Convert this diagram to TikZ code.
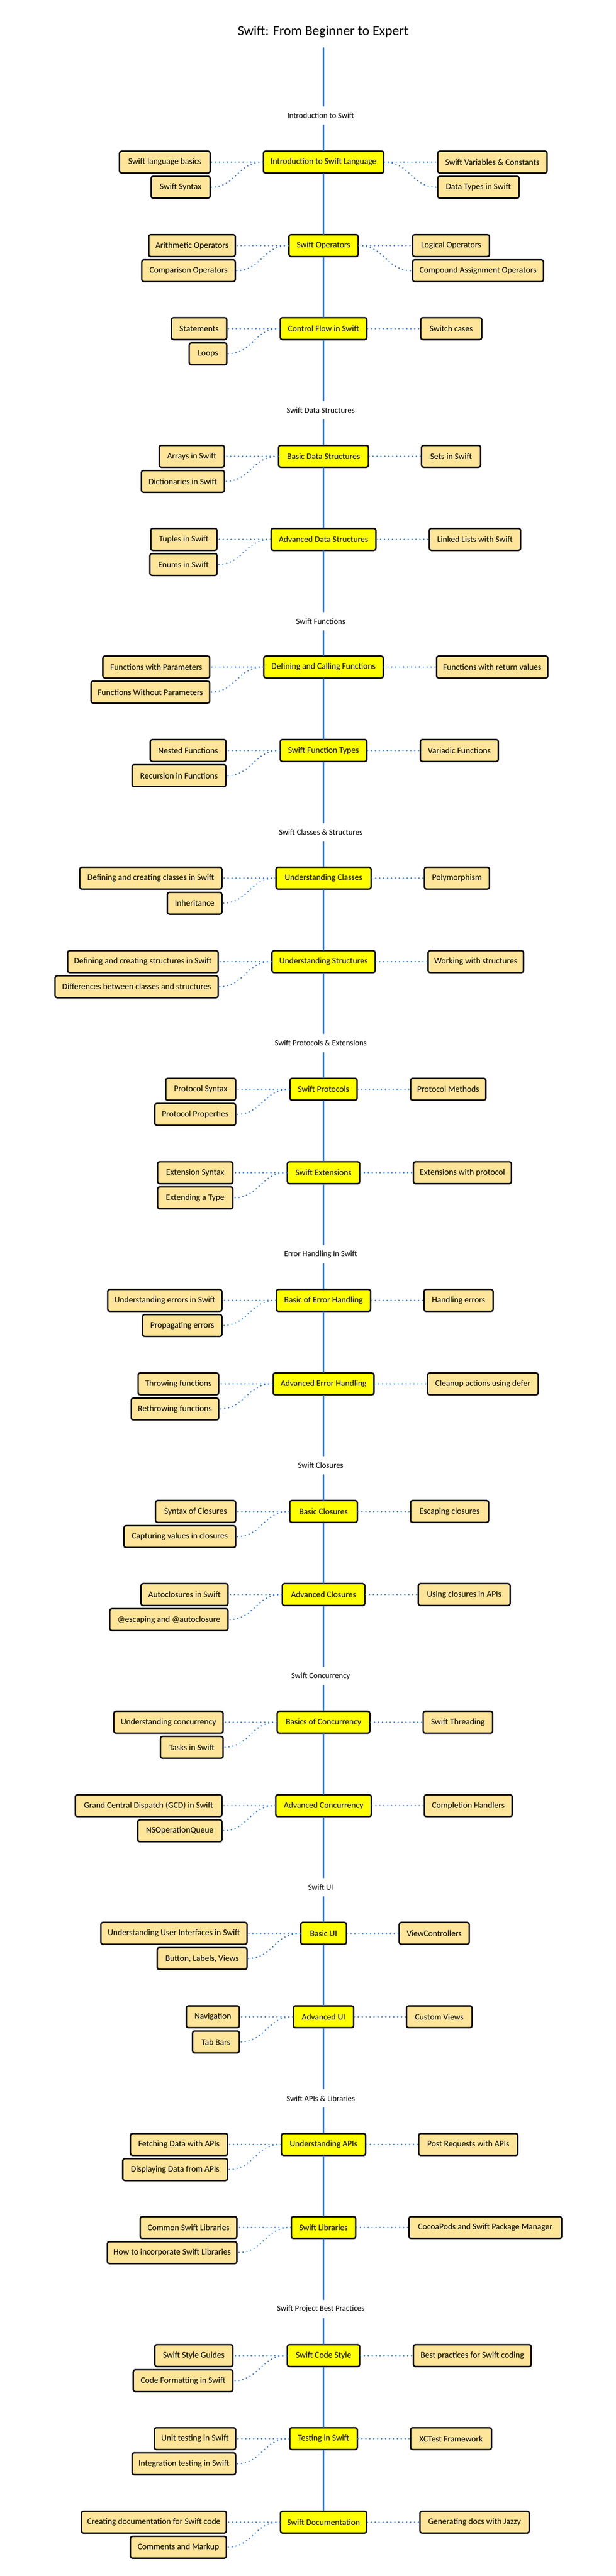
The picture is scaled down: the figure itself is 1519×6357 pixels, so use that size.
\documentclass[tikz,border=0pt]{standalone}
\usepackage{fontspec}
\setmainfont{Carlito}
\definecolor{spineblue}{HTML}{2B78E4}
\definecolor{mainfill}{HTML}{FFFF00}
\definecolor{subfill}{HTML}{FFE599}
\tikzset{
  box/.style={draw=black, line width=3.5pt, rounded corners=5pt, minimum height=54pt,
    inner sep=0pt, font=\fontsize{21}{25}\selectfont, text=black},
  mainbox/.style={box, fill=mainfill},
  subbox/.style={box, fill=subfill},
  seclabel/.style={inner sep=0pt, minimum height=47pt, font=\fontsize{19.7}{24}\selectfont},
  titlestyle/.style={inner sep=0pt, font=\fontsize{33.7}{40}\selectfont},
  spine/.style={draw=spineblue, line width=4pt, line cap=round},
  dotline/.style={draw=spineblue, line width=3.7pt, dash pattern=on 0pt off 9.7pt, line cap=round},
}
\newcommand\MainBox[4]{\node[mainbox, minimum width={#3-3.5}] (#1) at (798,#2) {#4};}
\newcommand\SubBox[5]{\node[subbox, minimum width={#3-#2-3.5}] (#1) at ({(#2+#3)/2},#4) {#5};}
\newcommand\Links[4]{%
  \draw[dotline] (#1.west) -- (#2.east);
  \draw[dotline] (#1.west) .. controls +(-64,0) and +(64,0) .. (#3.east);
  \draw[dotline] (#1.east) -- (#4.west);}
\newcommand\RLink[2]{\draw[dotline] (#1.east) .. controls +(64,0) and +(-64,0) .. (#2.west);}
\newcommand\Spine[4]{\draw[spine] (top |- #1.south) -- (#2.north) (#2.south) -- (#3.north) (#3.south) -- (top |- #4.north);}

\begin{document}
\begin{tikzpicture}[x=1pt,y=-1pt]
\useasboundingbox[fill=white] (0,0) rectangle (1519,6357);
\node[titlestyle] (title) at (797,78) {Swift: From Beginner to Expert};
\coordinate (top) at (798,118);

% section labels
\node[seclabel] (lab1) at (791,285) {Introduction to Swift};
\node[seclabel] (lab2) at (791,1012) {Swift Data Structures};
\node[seclabel] (lab3) at (791,1533) {Swift Functions};
\node[seclabel] (lab4) at (791,2054) {Swift Classes \& Structures};
\node[seclabel] (lab5) at (791,2574) {Swift Protocols \& Extensions};
\node[seclabel] (lab6) at (791,3095) {Error Handling In Swift};
\node[seclabel] (lab7) at (791,3616) {Swift Closures};
\node[seclabel] (lab8) at (791,4136) {Swift Concurrency};
\node[seclabel] (lab9) at (791,4657) {Swift UI};
\node[seclabel] (lab10) at (791,5178) {Swift APIs \& Libraries};
\node[seclabel] (lab11) at (791,5698) {Swift Project Best Practices};

% ---- section 1
\MainBox{intro}{400}{300}{Introduction to Swift Language}
\SubBox{introA}{293}{520}{400}{Swift language basics}
\SubBox{introB}{371}{520}{462}{Swift Syntax}
\SubBox{introC}{1078}{1351}{400}{Swift Variables \& Constants}
\SubBox{introD}{1078}{1282}{462}{Data Types in Swift}
\MainBox{ops}{606}{174}{Swift Operators}
\SubBox{opsA}{365}{582}{606}{Arithmetic Operators}
\SubBox{opsB}{348}{582}{668}{Comparison Operators}
\SubBox{opsC}{1016}{1209}{606}{Logical Operators}
\SubBox{opsD}{1016}{1342}{668}{Compound Assignment Operators}
\MainBox{flow}{811}{217}{Control Flow in Swift}
\SubBox{flowA}{421}{561}{811}{Statements}
\SubBox{flowB}{465}{561}{873}{Loops}
\SubBox{flowC}{1036}{1190}{811}{Switch cases}
\draw[spine] (top) -- (top |- lab1.north);
\draw[spine] (top |- lab1.south) -- (intro.north) (intro.south) -- (ops.north) (ops.south) -- (flow.north) (flow.south) -- (top |- lab2.north);
\Links{intro}{introA}{introB}{introC}\RLink{intro}{introD}
\Links{ops}{opsA}{opsB}{opsC}\RLink{ops}{opsD}
\Links{flow}{flowA}{flowB}{flowC}

% ---- section 2
\MainBox{bds}{1126}{225}{Basic Data Structures}
\SubBox{bdsA}{391}{555}{1126}{Arrays in Swift}
\SubBox{bdsB}{347}{555}{1188}{Dictionaries in Swift}
\SubBox{bdsC}{1038}{1187}{1126}{Sets in Swift}
\MainBox{ads}{1331}{262}{Advanced Data Structures}
\SubBox{adsA}{370}{537}{1331}{Tuples in Swift}
\SubBox{adsB}{368}{537}{1393}{Enums in Swift}
\SubBox{adsC}{1057}{1286}{1331}{Linked Lists with Swift}
\Spine{lab2}{bds}{ads}{lab3}
\Links{bds}{bdsA}{bdsB}{bdsC}
\Links{ads}{adsA}{adsB}{adsC}

% ---- section 3
\MainBox{dcf}{1646}{298}{Defining and Calling Functions}
\SubBox{dcfA}{252}{519}{1646}{Functions with Parameters}
\SubBox{dcfB}{223}{519}{1708}{Functions Without Parameters}
\SubBox{dcfC}{1075}{1353}{1646}{Functions with return values}
\MainBox{sft}{1852}{217}{Swift Function Types}
\SubBox{sftA}{369}{559}{1852}{Nested Functions}
\SubBox{sftB}{324}{559}{1914}{Recursion in Functions}
\SubBox{sftC}{1035}{1231}{1852}{Variadic Functions}
\Spine{lab3}{dcf}{sft}{lab4}
\Links{dcf}{dcfA}{dcfB}{dcfC}
\Links{sft}{sftA}{sftB}{sftC}

% ---- section 4
\MainBox{ucl}{2167}{238}{Understanding Classes}
\SubBox{uclA}{195}{549}{2167}{Defining and creating classes in Swift}
\SubBox{uclB}{411}{549}{2229}{Inheritance}
\SubBox{uclC}{1045}{1209}{2167}{Polymorphism}
\MainBox{ust}{2373}{258}{Understanding Structures}
\SubBox{ustA}{165}{540}{2373}{Defining and creating structures in Swift}
\SubBox{ustB}{134}{540}{2435}{Differences between classes and structures}
\SubBox{ustC}{1054}{1293}{2373}{Working with structures}
\Spine{lab4}{ucl}{ust}{lab5}
\Links{ucl}{uclA}{uclB}{uclC}
\Links{ust}{ustA}{ustB}{ustC}

% ---- section 5
\MainBox{spr}{2688}{169}{Swift Protocols}
\SubBox{sprA}{407}{583}{2688}{Protocol Syntax}
\SubBox{sprB}{380}{583}{2750}{Protocol Properties}
\SubBox{sprC}{1011}{1200}{2688}{Protocol Methods}
\MainBox{sex}{2894}{182}{Swift Extensions}
\SubBox{sexA}{387}{576}{2894}{Extension Syntax}
\SubBox{sexB}{387}{576}{2956}{Extending a Type}
\SubBox{sexC}{1018}{1263}{2894}{Extensions with protocol}
\Spine{lab5}{spr}{sex}{lab6}
\Links{spr}{sprA}{sprB}{sprC}
\Links{sex}{sexA}{sexB}{sexC}

% ---- section 6
\MainBox{beh}{3209}{236}{Basic of Error Handling}
\SubBox{behA}{264}{549}{3209}{Understanding errors in Swift}
\SubBox{behB}{350}{549}{3271}{Propagating errors}
\SubBox{behC}{1044}{1218}{3209}{Handling errors}
\MainBox{aeh}{3415}{252}{Advanced Error Handling}
\SubBox{aehA}{339}{541}{3415}{Throwing functions}
\SubBox{aehB}{322}{541}{3477}{Rethrowing functions}
\SubBox{aehC}{1053}{1329}{3415}{Cleanup actions using defer}
\Spine{lab6}{beh}{aeh}{lab7}
\Links{beh}{behA}{behB}{behC}
\Links{aeh}{aehA}{aehB}{aehC}

% ---- section 7
\MainBox{bcl}{3730}{170}{Basic Closures}
\SubBox{bclA}{382}{583}{3730}{Syntax of Closures}
\SubBox{bclB}{304}{583}{3792}{Capturing values in closures}
\SubBox{bclC}{1011}{1207}{3730}{Escaping closures}
\MainBox{acl}{3935}{207}{Advanced Closures}
\SubBox{aclA}{346}{564}{3935}{Autoclosures in Swift}
\SubBox{aclB}{269}{564}{3997}{@escaping and @autoclosure}
\SubBox{aclC}{1030}{1260}{3935}{Using closures in APIs}
\Spine{lab7}{bcl}{acl}{lab8}
\Links{bcl}{bclA}{bclB}{bclC}
\Links{acl}{aclA}{aclB}{aclC}

% ---- section 8
\MainBox{bco}{4250}{232}{Basics of Concurrency}
\SubBox{bcoA}{279}{552}{4250}{Understanding concurrency}
\SubBox{bcoB}{394}{552}{4312}{Tasks in Swift}
\SubBox{bcoC}{1042}{1217}{4250}{Swift Threading}
\MainBox{aco}{4456}{239}{Advanced Concurrency}
\SubBox{acoA}{184}{549}{4456}{Grand Central Dispatch (GCD) in Swift}
\SubBox{acoB}{338}{549}{4518}{NSOperationQueue}
\SubBox{acoC}{1045}{1265}{4456}{Completion Handlers}
\Spine{lab8}{bco}{aco}{lab9}
\Links{bco}{bcoA}{bcoB}{bcoC}
\Links{aco}{acoA}{acoB}{acoC}

% ---- section 9
\MainBox{bui}{4771}{116}{Basic UI}
\SubBox{buiA}{247}{611}{4771}{Understanding User Interfaces in Swift}
\SubBox{buiB}{386}{611}{4833}{Button, Labels, Views}
\SubBox{buiC}{983}{1159}{4771}{ViewControllers}
\MainBox{aui}{4977}{152}{Advanced UI}
\SubBox{auiA}{458}{592}{4977}{Navigation}
\SubBox{auiB}{473}{592}{5039}{Tab Bars}
\SubBox{auiC}{1001}{1166}{4977}{Custom Views}
\Spine{lab9}{bui}{aui}{lab10}
\Links{bui}{buiA}{buiB}{buiC}
\Links{aui}{auiA}{auiB}{auiC}

% ---- section 10
\MainBox{uap}{5292}{211}{Understanding APIs}
\SubBox{uapA}{320}{563}{5292}{Fetching Data with APIs}
\SubBox{uapB}{301}{563}{5354}{Displaying Data from APIs}
\SubBox{uapC}{1031}{1279}{5292}{Post Requests with APIs}
\MainBox{sli}{5497}{162}{Swift Libraries}
\SubBox{sliA}{344}{586}{5497}{Common Swift Libraries}
\SubBox{sliB}{263}{586}{5559}{How to incorporate Swift Libraries}
\SubBox{sliC}{1007}{1387}{5497}{CocoaPods and Swift Package Manager}
\Spine{lab10}{uap}{sli}{lab11}
\Links{uap}{uapA}{uapB}{uapC}
\Links{sli}{sliA}{sliB}{sliC}

% ---- section 11
\MainBox{scs}{5813}{182}{Swift Code Style}
\SubBox{scsA}{380}{576}{5813}{Swift Style Guides}
\SubBox{scsB}{327}{576}{5875}{Code Formatting in Swift}
\SubBox{scsC}{1018}{1312}{5813}{Best practices for Swift coding}
\MainBox{tes}{6018}{170}{Testing in Swift}
\SubBox{tesA}{379}{583}{6018}{Unit testing in Swift}
\SubBox{tesB}{324}{583}{6080}{Integration testing in Swift}
\SubBox{tesC}{1011}{1214}{6018}{XCTest Framework}
\MainBox{sdo}{6224}{216}{Swift Documentation}
\SubBox{sdoA}{199}{560}{6224}{Creating documentation for Swift code}
\SubBox{sdoB}{320}{560}{6286}{Comments and Markup}
\SubBox{sdoC}{1034}{1307}{6224}{Generating docs with Jazzy}
\draw[spine] (top |- lab11.south) -- (scs.north) (scs.south) -- (tes.north) (tes.south) -- (sdo.north);
\Links{scs}{scsA}{scsB}{scsC}
\Links{tes}{tesA}{tesB}{tesC}
\Links{sdo}{sdoA}{sdoB}{sdoC}
\end{tikzpicture}
\end{document}
